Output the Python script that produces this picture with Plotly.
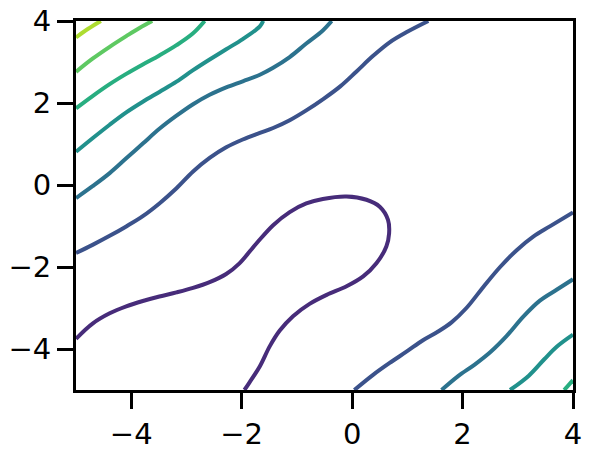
import plotly.graph_objects as go

# contour lines, lowest level first (viridis levels 1/8 .. 7/8)
level_colors = ["#472c7a", "#3b528b", "#2c728e", "#21918c", "#28ae80", "#5ec962", "#addc30"]

# level 1 (purple): one curve from the left edge to the bottom edge
purple_x = [-5.0, -4.70, -4.39, -4.09, -3.79, -3.49, -3.18, -2.88, -2.58, -2.28, -2.04, -1.73, -1.43, -1.13,
            -0.83, -0.53, -0.10, 0.26, 0.50, 0.65, 0.67, 0.62, 0.44, 0.20, -0.10, -0.46, -0.77, -1.07,
            -1.31, -1.49, -1.67, -1.86, -1.95]
purple_y = [-3.75, -3.38, -3.13, -2.96, -2.83, -2.72, -2.62, -2.51, -2.37, -2.17, -1.91, -1.42, -0.98, -0.66,
            -0.45, -0.34, -0.28, -0.36, -0.53, -0.85, -1.18, -1.50, -1.91, -2.23, -2.47, -2.68, -2.90, -3.20,
            -3.55, -3.93, -4.42, -4.82, -5.0]

# level 2 (blue)
blue_up_x = [-5.0, -4.70, -4.39, -4.09, -3.79, -3.49, -3.18, -2.88, -2.58, -2.28, -1.98, -1.67, -1.43, -1.13,
             -0.83, -0.53, -0.22, 0.08, 0.38, 0.68, 0.99, 1.38]
blue_up_y = [-1.66, -1.46, -1.24, -1.01, -0.76, -0.45, -0.08, 0.33, 0.66, 0.92, 1.11, 1.27, 1.39, 1.58,
             1.82, 2.09, 2.40, 2.77, 3.15, 3.48, 3.73, 4.0]
blue_lo_x = [0.04, 0.38, 0.68, 0.99, 1.29, 1.55, 1.80, 2.07, 2.38, 2.68, 2.98, 3.28, 3.58, 4.0]
blue_lo_y = [-5.0, -4.63, -4.34, -4.06, -3.78, -3.58, -3.35, -3.00, -2.48, -2.00, -1.59, -1.26, -1.01, -0.67]

# level 3 (teal blue)
teal_up_x = [-5.0, -4.70, -4.39, -4.09, -3.79, -3.49, -3.18, -2.88, -2.58, -2.28, -1.98, -1.67, -1.43, -1.13,
             -0.83, -0.53, -0.37]
teal_up_y = [-0.32, -0.03, 0.29, 0.65, 1.01, 1.37, 1.69, 1.97, 2.20, 2.38, 2.53, 2.69, 2.86, 3.12,
             3.45, 3.77, 4.0]
teal_lo_x = [1.62, 1.92, 2.22, 2.50, 2.80, 3.10, 3.40, 3.71, 4.0]
teal_lo_y = [-5.0, -4.66, -4.38, -4.08, -3.68, -3.21, -2.82, -2.55, -2.30]

# level 4 (teal green)
tgreen_up_x = [-5.0, -4.70, -4.39, -4.09, -3.79, -3.49, -3.18, -2.88, -2.58, -2.28, -1.98, -1.67, -1.61]
tgreen_up_y = [0.81, 1.14, 1.47, 1.77, 2.03, 2.27, 2.52, 2.80, 3.06, 3.31, 3.56, 3.87, 4.0]
tgreen_lo_x = [2.86, 3.20, 3.48, 3.71, 4.0]
tgreen_lo_y = [-5.0, -4.65, -4.25, -3.94, -3.65]

# level 5 (green)
green_up_x = [-5.0, -4.70, -4.39, -4.09, -3.79, -3.49, -3.18, -2.88, -2.67]
green_up_y = [1.87, 2.17, 2.46, 2.71, 2.94, 3.16, 3.41, 3.70, 4.0]
green_lo_x = [3.84, 4.0]
green_lo_y = [-5.0, -4.76]

# level 6 (light green)
lgreen_x = [-5.0, -4.70, -4.39, -4.09, -3.85, -3.62]
lgreen_y = [2.76, 3.08, 3.37, 3.63, 3.83, 4.0]

# level 7 (yellow green)
ygreen_x = [-5.0, -4.78, -4.55]
ygreen_y = [3.60, 3.81, 4.0]

curves = [
    (purple_x, purple_y, 0),
    (blue_up_x, blue_up_y, 1), (blue_lo_x, blue_lo_y, 1),
    (teal_up_x, teal_up_y, 2), (teal_lo_x, teal_lo_y, 2),
    (tgreen_up_x, tgreen_up_y, 3), (tgreen_lo_x, tgreen_lo_y, 3),
    (green_up_x, green_up_y, 4), (green_lo_x, green_lo_y, 4),
    (lgreen_x, lgreen_y, 5),
    (ygreen_x, ygreen_y, 6),
]

fig = go.Figure()
for xs, ys, lvl in curves:
    fig.add_trace(go.Scatter(x=xs, y=ys, mode="lines",
                             line=dict(color=level_colors[lvl], width=4, shape="spline", smoothing=1.0),
                             showlegend=False, hoverinfo="skip"))

axis_style = dict(range=[-5, 4], tickvals=[-4, -2, 0, 2, 4], showgrid=False, zeroline=False,
                  showline=True, linecolor="black", linewidth=3, mirror=True,
                  automargin=False, ticklabeloverflow="allow",
                  tickfont=dict(family="DejaVu Sans", size=29, color="black"))

fig.update_xaxes(**axis_style)
fig.update_yaxes(**axis_style)
fig.update_xaxes(ticks="outside", ticklen=16, tickwidth=3, tickcolor="black")
fig.update_yaxes(ticks="outside", ticklen=16, tickwidth=3, tickcolor="black")

# the page body has an 8px margin, so the figure is shrunk to keep the axes where they belong
fig.update_layout(width=584, height=443, margin=dict(l=68, r=19, t=13, b=61),
                  plot_bgcolor="white", paper_bgcolor="white")

fig.write_html("out.html")
